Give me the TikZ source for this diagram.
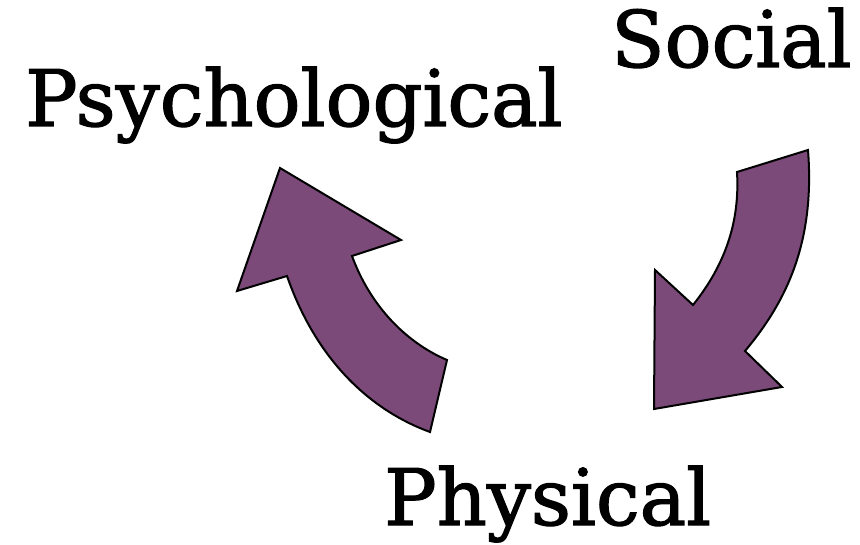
\documentclass[tikz,border=0pt]{standalone}
\usepackage{fontspec}
\setmainfont{DejaVu Serif}
\newfontfamily\slabfont{DejaVu Serif}[FakeBold=1.6]
\usepackage{xcolor}
\usepackage{tikz}
\definecolor{plum}{HTML}{7B4A79}

\begin{document}
\begin{tikzpicture}[
      x=1pt, y=-1pt,
      word/.style={anchor=base west,inner sep=0pt,font=\slabfont\fontsize{78}{84}\selectfont},
      bigarrow/.style={draw=black,fill=plum,line width=2pt,line join=miter}
  ]
    \useasboundingbox (0,0) rectangle (860,545);

    \node[word] (psych)  at (25,126)  {Psychological};
    \node[word] (social) at (611,67)  {Social};
    \node[word] (phys)   at (384,525) {Physical};

    % arrow from physical up to psychological
    \draw[bigarrow] (280,168) -- (401,240) -- (352,256)
      .. controls (370,305) and (405,342) .. (447,360)
      -- (430,432)
      .. controls (375,412) and (318,365) .. (287,276)
      -- (237,291) -- cycle;

    % arrow from social down to physical
    \draw[bigarrow] (737,172) -- (808,150)
      .. controls (815,240) and (788,300) .. (745,351)
      -- (782,387) -- (654,409) -- (655,270) -- (693,305)
      .. controls (725,265) and (740,222) .. cycle;
  \end{tikzpicture}
\end{document}
